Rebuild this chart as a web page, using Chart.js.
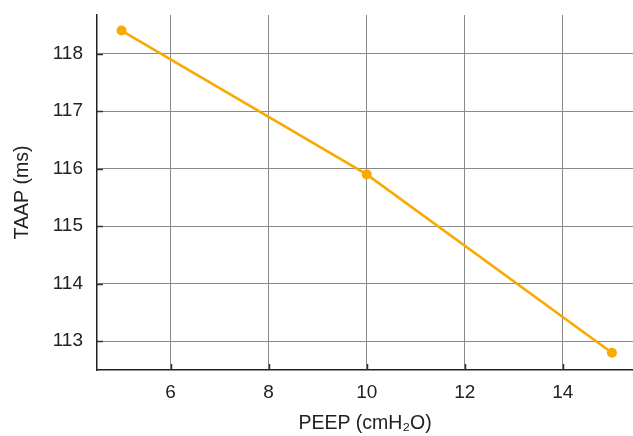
<!DOCTYPE html>
<html>
<head>
<meta charset="utf-8">
<script src="https://cdn.jsdelivr.net/npm/chart.js@4"></script>
<style>
  html, body { margin: 0; padding: 0; background: #fff; }
  #wrap { width: 633px; height: 436px; }
</style>
</head>
<body>
<div id="wrap"><canvas id="chart" width="633" height="436"></canvas></div>
<script>
// Data
const peepValues = [5, 10, 15];
const taapValues = [118.4, 115.9, 112.8];
const xTicks = [6, 8, 10, 12, 14];
const yTicks = [113, 114, 115, 116, 117, 118];

const lineColor = '#f9aa00';
const gridColor = '#8a8a8a';
const fontFamily = "'Liberation Sans', Arial, sans-serif";

// short tick marks drawn inward from the axes
const innerTicks = {
    id: 'innerTicks',
    afterDraw(chart) {
        const ctx = chart.ctx;
        const { x, y } = chart.scales;
        const area = chart.chartArea;
        ctx.save();
        ctx.strokeStyle = '#333';
        ctx.lineWidth = 1.5;
        ctx.beginPath();
        xTicks.forEach(v => {
            const px = Math.round(x.getPixelForValue(v)) + 0.5;
            ctx.moveTo(px, area.bottom);
            ctx.lineTo(px, area.bottom - 6);
        });
        yTicks.forEach(v => {
            const py = Math.round(y.getPixelForValue(v)) + 0.5;
            ctx.moveTo(area.left, py);
            ctx.lineTo(area.left + 6, py);
        });
        ctx.stroke();
        ctx.restore();
    }
};

new Chart(document.getElementById('chart'), {
    type: 'line',
    data: {
        datasets: [{
            data: peepValues.map((p, i) => ({ x: p, y: taapValues[i] })),
            borderColor: lineColor,
            backgroundColor: lineColor,
            borderWidth: 2.6,
            pointRadius: 5,
            pointBorderWidth: 0,
            tension: 0,
            fill: false
        }]
    },
    options: {
        responsive: false,
        animation: false,
        layout: { autoPadding: false, padding: { top: 15, right: 0, left: 0, bottom: 0 } },
        plugins: {
            legend: { display: false },
            tooltip: { enabled: false }
        },
        scales: {
            x: {
                type: 'linear',
                min: 4.5,
                max: 15.43,
                afterBuildTicks: s => { s.ticks = xTicks.map(v => ({ value: v })); },
                afterFit: s => {
                    s.height = 66;
                    s.paddingLeft = 0;
                    s.paddingRight = 0;
                },
                grid: { color: gridColor, lineWidth: 1, drawTicks: false },
                border: { color: '#222', width: 1.5 },
                ticks: {
                    padding: 11,
                    color: '#222',
                    font: { family: fontFamily, size: 19 }
                },
                title: {
                    display: true,
                    text: 'PEEP (cmH\u2082O)',
                    color: '#222',
                    font: { family: fontFamily, size: 19.5 },
                    padding: { top: 0, bottom: 1 }
                }
            },
            y: {
                min: 112.5,
                max: 118.67,
                afterBuildTicks: s => { s.ticks = yTicks.map(v => ({ value: v })); },
                afterFit: s => {
                    s.width = 97;
                    s.paddingTop = 0;
                    s.paddingBottom = 0;
                },
                grid: { color: gridColor, lineWidth: 1, drawTicks: false },
                border: { color: '#222', width: 1.5 },
                ticks: {
                    padding: 14,
                    color: '#222',
                    font: { family: fontFamily, size: 19 }
                },
                title: {
                    display: true,
                    text: 'TAAP (ms)',
                    color: '#222',
                    font: { family: fontFamily, size: 19.5 },
                    padding: { top: 11, bottom: 0 }
                }
            }
        }
    },
    plugins: [innerTicks]
});
</script>
</body>
</html>
